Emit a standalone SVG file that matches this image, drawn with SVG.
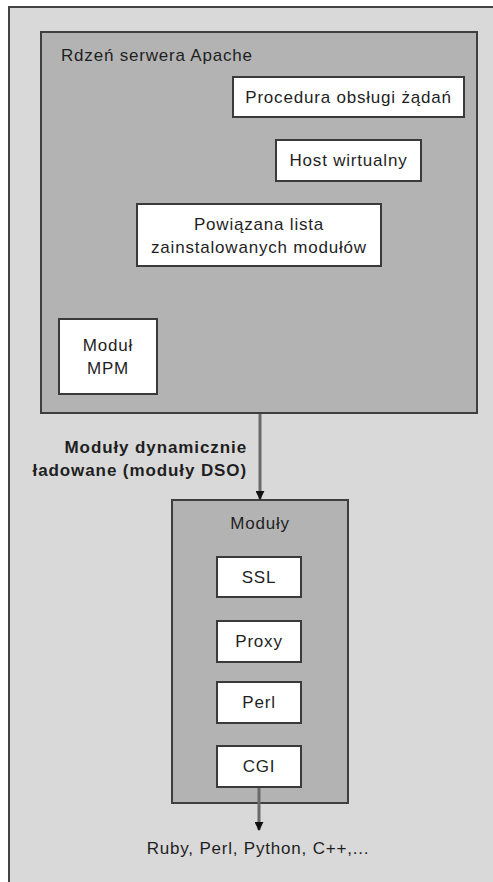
<svg xmlns="http://www.w3.org/2000/svg" width="493" height="882" viewBox="0 0 493 882">
<defs>
<marker id="ah" viewBox="0 0 10 10" refX="9" refY="5" markerWidth="3" markerHeight="3" orient="auto" markerUnits="strokeWidth">
<path d="M0,0 L10,5 L0,10 z" fill="#111"/>
</marker>
</defs>
<style>
text{font-family:"Liberation Sans",Arial,sans-serif;font-size:17px;fill:#1f1f1f;letter-spacing:0.8px}
.b{font-weight:bold;letter-spacing:0.9px}
.box{fill:#ffffff;stroke:#3a3a3a;stroke-width:2}
.cont{fill:#b3b3b3;stroke:#3f3f3f;stroke-width:2}
.c{text-anchor:middle}
.r{text-anchor:end}
.conn{stroke:#6a6a6a;stroke-width:3;fill:none;marker-end:url(#ah)}
</style>
<rect x="0" y="0" width="493" height="882" fill="#ffffff"/>
<rect id="frame" x="9" y="7" width="490" height="880" fill="#d9d9d9" stroke="#444" stroke-width="2"/>
<g id="apache-core">
<rect class="cont" x="41" y="32" width="436" height="381"/>
<text x="61" y="61">Rdzeń serwera Apache</text>
</g>
<g id="request-handler">
<rect class="box" x="233" y="77" width="231" height="40"/>
<text class="c" x="348.5" y="103">Procedura obsługi żądań</text>
</g>
<g id="virtual-host">
<rect class="box" x="276" y="140" width="145" height="41"/>
<text class="c" x="348.5" y="166">Host wirtualny</text>
</g>
<g id="module-list">
<rect class="box" x="137" y="204" width="244" height="62"/>
<text class="c" x="259" y="230">Powiązana lista</text>
<text class="c" x="259" y="253">zainstalowanych modułów</text>
</g>
<g id="mpm">
<rect class="box" x="59" y="319" width="98" height="75"/>
<text class="c" x="108" y="351">Moduł</text>
<text class="c" x="108" y="374">MPM</text>
</g>
<g id="modules">
<rect class="cont" x="172" y="500" width="176" height="303"/>
<text class="c" x="260" y="529">Moduły</text>
</g>
<g id="ssl">
<rect class="box" x="217" y="557" width="84" height="40"/>
<text class="c" x="259" y="583">SSL</text>
</g>
<g id="proxy">
<rect class="box" x="217" y="621" width="84" height="41"/>
<text class="c" x="259" y="647">Proxy</text>
</g>
<g id="perl">
<rect class="box" x="217" y="682" width="84" height="41"/>
<text class="c" x="259" y="708">Perl</text>
</g>
<g id="cgi">
<rect class="box" x="217" y="746" width="84" height="41"/>
<text class="c" x="259" y="772">CGI</text>
</g>
<g id="languages">
<text class="c" x="258" y="854">Ruby, Perl, Python, C++,...</text>
</g>
<g id="connectors">
<line class="conn" x1="260" y1="414" x2="260" y2="499"/>
<text class="b r" x="247" y="453">Moduły dynamicznie</text>
<text class="b r" x="247" y="476">ładowane (moduły DSO)</text>
<line class="conn" x1="259" y1="788" x2="259" y2="830"/>
</g>
</svg>
